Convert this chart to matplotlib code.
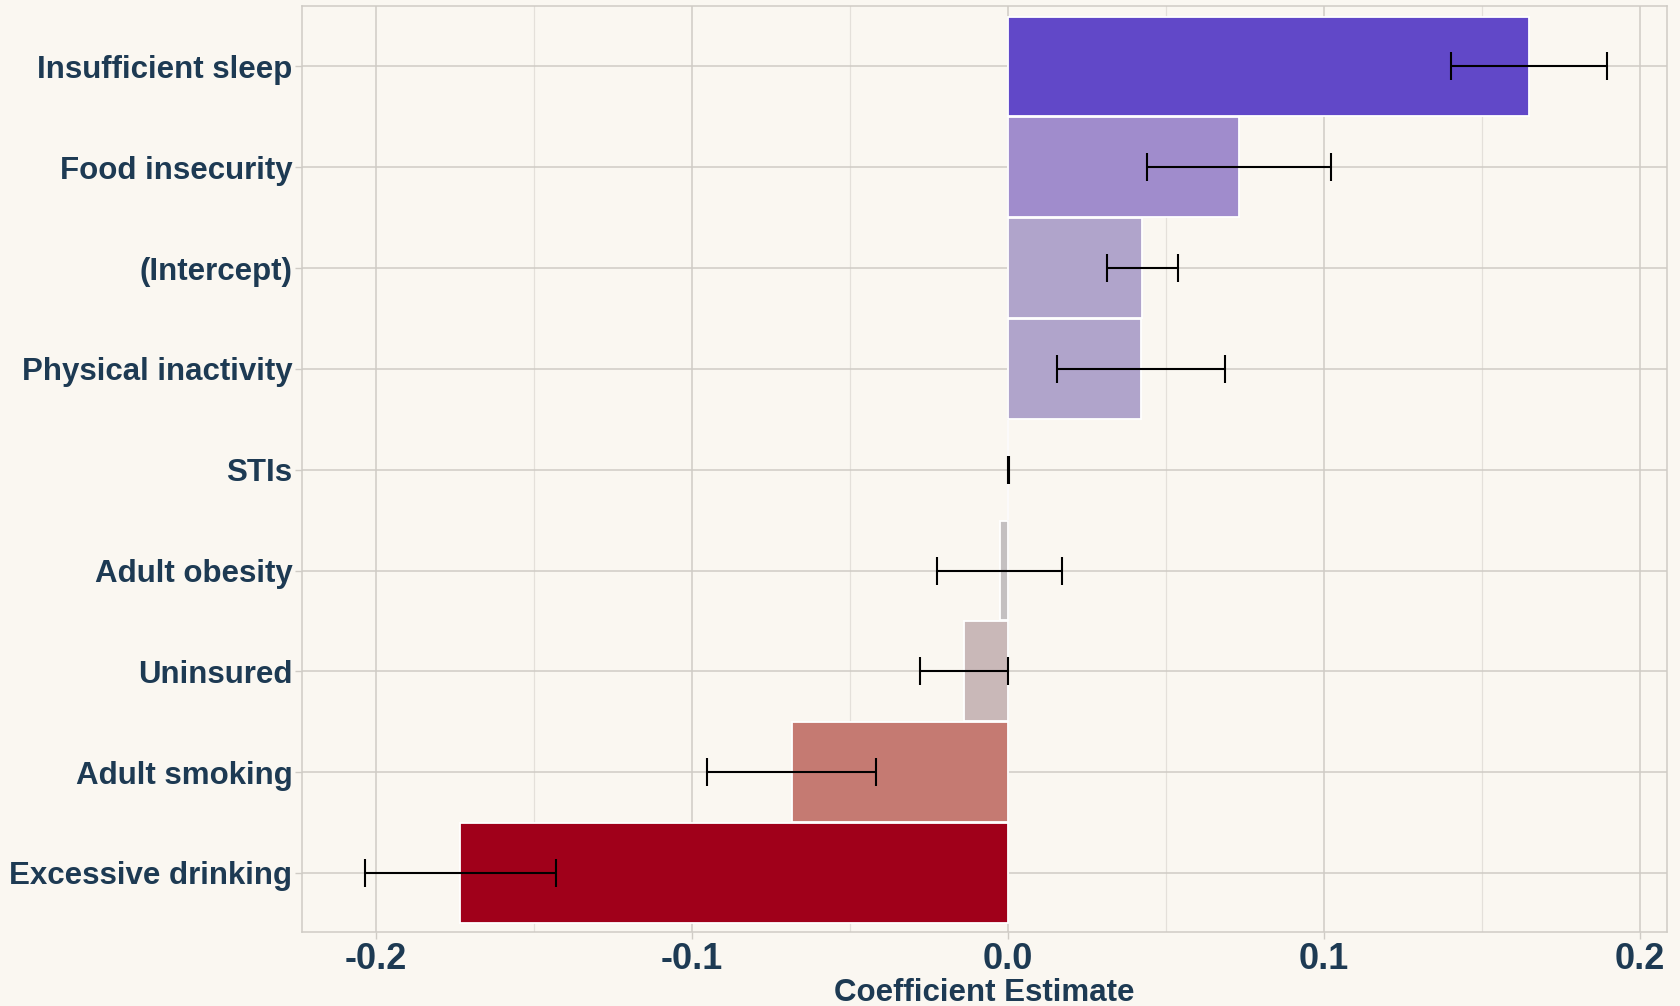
import matplotlib
matplotlib.use("Agg")
from matplotlib import pyplot as plt
from matplotlib.ticker import MultipleLocator

# regression coefficients with half-width of the confidence interval
labels = ["Excessive drinking", "Adult smoking", "Uninsured", "Adult obesity", "STIs",
          "Physical inactivity", "(Intercept)", "Food insecurity", "Insufficient sleep"]
coefs = [-0.1733, -0.0685, -0.0140, -0.0027, 0.0001, 0.0420, 0.0424, 0.0731, 0.1648]
errors = [0.0303, 0.0268, 0.0140, 0.0197, 0.0001, 0.0265, 0.0112, 0.0292, 0.0246]

bar_colors = ["#A0001A", "#C57A72", "#C9B8B8", "#C4C0C1", "#C4C0C1",
              "#B0A4CB", "#B0A4CB", "#A08CCC", "#6148C8"]

bg = "#FAF7F1"
text_c = "#1D3A53"
grid_c = "#CFCBC5"

plt.rcParams['font.family'] = ['Liberation Sans', 'DejaVu Sans']

fig = plt.figure(figsize=(16.8, 10.06), dpi=100, facecolor=bg)
ax = fig.add_axes([0.1798, 0.0736, 0.8125, 0.92])
ax.set_facecolor(bg)

ypos = list(range(len(labels)))
ax.barh(ypos, coefs, height=0.99, color=bar_colors, edgecolor="white",
        linewidth=1.3, zorder=2)
ax.errorbar(coefs, ypos, xerr=errors, fmt="none", ecolor="black",
            elinewidth=1.5, capsize=10, capthick=1.5, zorder=3)

ax.set_xlim(-0.2234, 0.2085)
ax.set_ylim(-0.585, 8.595)
ax.set_yticks(ypos)
ax.set_yticklabels(labels)
ax.xaxis.set_major_locator(MultipleLocator(0.1))
ax.xaxis.set_minor_locator(MultipleLocator(0.05))
ax.xaxis.set_major_formatter(plt.FuncFormatter(lambda v, p: f"{v:.1f}"))

ax.grid(which="major", color=grid_c, linewidth=1.1, zorder=0)
ax.grid(which="minor", axis="x", color="#E4E0DA", linewidth=0.9, zorder=0)
ax.set_axisbelow(True)

for s in ax.spines.values():
    s.set_color(grid_c)
    s.set_linewidth(1.1)

ax.tick_params(axis="both", which="major", colors=grid_c, length=5, width=1,
               labelcolor=text_c)
ax.tick_params(axis="y", labelsize=22.5, pad=2)
ax.tick_params(axis="x", labelsize=26, pad=2)
ax.tick_params(axis="x", which="minor", length=0)
for t in ax.get_xticklabels() + ax.get_yticklabels():
    t.set_fontweight("bold")

ax.set_xlabel("Coefficient Estimate", fontsize=22.5, fontweight="bold",
              color=text_c, labelpad=1)

fig.savefig("out.png", dpi=100, facecolor=bg)
